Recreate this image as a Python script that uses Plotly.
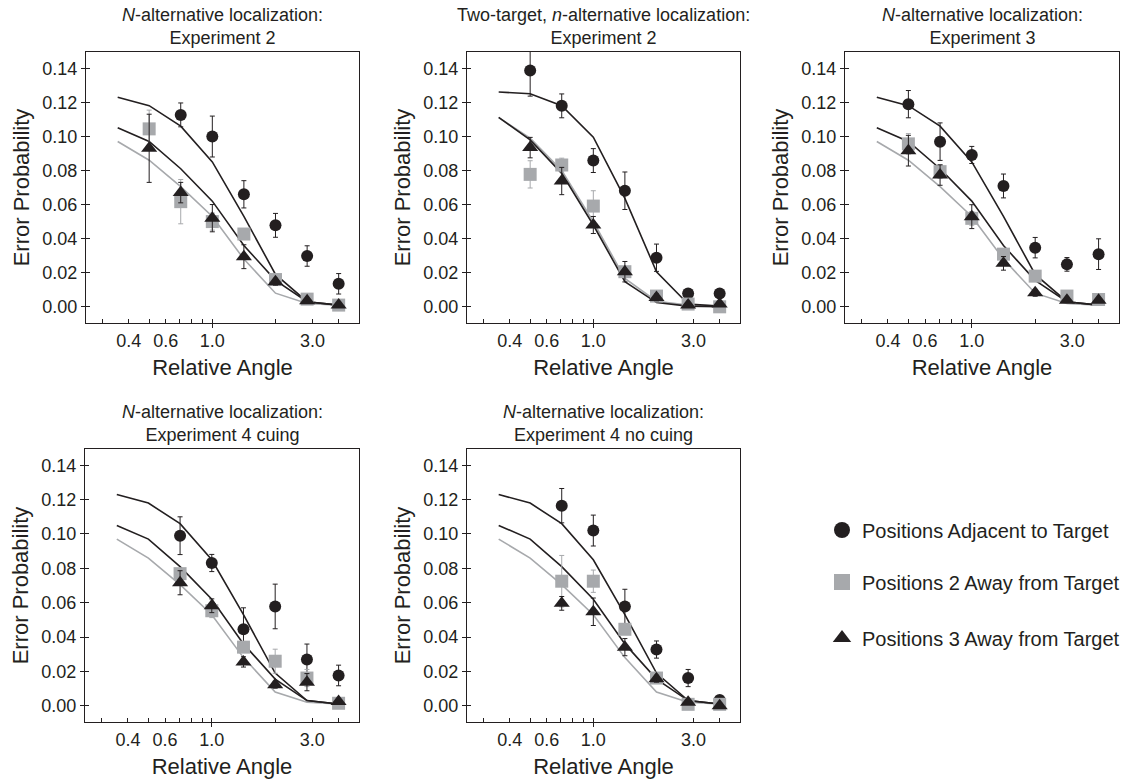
import plotly.graph_objects as go

# ---------------- data ----------------
model_angles = [0.354, 0.5, 0.707, 1.0, 1.414, 2.0, 2.83, 4.0]
angles_a = [0.5, 0.707, 1.0, 1.414, 2.0, 2.83, 4.0]
angles_b = [0.707, 1.0, 1.414, 2.0, 2.83, 4.0]

# model curves (single-target experiments share one model)
model_adj = [0.123, 0.118, 0.106, 0.085, 0.053, 0.019, 0.003, 0.001]
model_two = [0.097, 0.086, 0.0705, 0.053, 0.028, 0.008, 0.002, 0.001]
model_three = [0.105, 0.097, 0.081, 0.062, 0.036, 0.0155, 0.003, 0.001]
# two-target model
model2_adj = [0.126, 0.125, 0.118, 0.0995, 0.0636, 0.0206, 0.0016, 0.0004]
model2_two = [0.111, 0.099, 0.080, 0.050, 0.0166, 0.0033, 0.001, 0.0004]
model2_three = [0.1112, 0.0979, 0.0783, 0.048, 0.0147, 0.0025, 0.0004, 0.0]

# Panel 1: N-alternative, Experiment 2
p1_adj = [None, 0.1126, 0.0999, 0.066, 0.0478, 0.0298, 0.0135]
p1_adj_err = [0, 0.007, 0.012, 0.008, 0.007, 0.006, 0.006]
p1_two = [0.1044, 0.0617, 0.050, 0.0427, 0.016, 0.0045, 0.001]
p1_two_err = [0.011, 0.013, 0.005, 0.003, 0.002, 0.001, 0.001]
p1_three = [0.093, 0.067, 0.052, 0.0294, 0.0147, 0.0035, 0.001]
p1_three_err = [0.020, 0.006, 0.008, 0.007, 0.002, 0.001, 0.001]

# Panel 2: Two-target, Experiment 2
p2_adj = [0.1386, 0.1179, 0.0858, 0.0681, 0.0288, 0.0078, 0.0078]
p2_adj_err = [0.015, 0.007, 0.007, 0.011, 0.008, 0.002, 0.002]
p2_two = [0.0777, 0.0832, 0.0591, 0.0206, 0.0063, 0.0016, 0.0]
p2_two_err = [0.008, 0.004, 0.009, 0.003, 0.002, 0.001, 0.001]
p2_three = [0.0934, 0.0738, 0.048, 0.0206, 0.0055, 0.001, 0.0016]
p2_three_err = [0.006, 0.008, 0.005, 0.006, 0.002, 0.001, 0.001]

# Panel 3: N-alternative, Experiment 3
p3_adj = [0.1189, 0.0969, 0.0891, 0.0709, 0.0347, 0.0249, 0.0309]
p3_adj_err = [0.008, 0.011, 0.005, 0.007, 0.006, 0.004, 0.009]
p3_two = [0.0956, 0.0793, 0.0519, 0.0309, 0.018, 0.0063, 0.0043]
p3_two_err = [0.006, 0.004, 0.004, 0.003, 0.002, 0.001, 0.001]
p3_three = [0.0916, 0.0773, 0.0529, 0.0255, 0.0082, 0.0039, 0.0039]
p3_three_err = [0.009, 0.006, 0.007, 0.004, 0.002, 0.001, 0.001]

# Panel 4: Experiment 4 cuing
p4_adj = [0.099, 0.0831, 0.0445, 0.0578, 0.0269, 0.0176]
p4_adj_err = [0.011, 0.005, 0.0125, 0.013, 0.009, 0.006]
p4_two = [0.0769, 0.0553, 0.0341, 0.0259, 0.0161, 0.0014]
p4_two_err = [0.003, 0.004, 0.003, 0.007, 0.005, 0.001]
p4_three = [0.0716, 0.0582, 0.0255, 0.0122, 0.0137, 0.0024]
p4_three_err = [0.007, 0.004, 0.003, 0.002, 0.005, 0.001]

# Panel 5: Experiment 4 no cuing
p5_adj = [0.1165, 0.102, 0.0578, 0.0327, 0.0161, 0.0033]
p5_adj_err = [0.01, 0.009, 0.01, 0.005, 0.005, 0.001]
p5_two = [0.0725, 0.0725, 0.0445, 0.0161, 0.0008, 0.0008]
p5_two_err = [0.015, 0.0065, 0.003, 0.002, 0.001, 0.001]
p5_three = [0.0596, 0.0547, 0.0341, 0.0157, 0.002, 0.0]
p5_three_err = [0.004, 0.008, 0.005, 0.002, 0.001, 0.001]

titles = [
    "<i>N</i>-alternative localization:<br>Experiment 2",
    "Two-target, <i>n</i>-alternative localization:<br>Experiment 2",
    "<i>N</i>-alternative localization:<br>Experiment 3",
    "<i>N</i>-alternative localization:<br>Experiment 4 cuing",
    "<i>N</i>-alternative localization:<br>Experiment 4 no cuing",
]
series_names = ["Positions Adjacent to Target",
                "Positions 2 Away from Target",
                "Positions 3 Away from Target"]
x_minor_ticks = [0.3, 0.4, 0.5, 0.6, 0.7, 0.8, 0.9, 1.0, 2.0, 3.0, 4.0]
x_tick_text = ["", "0.4", "", "0.6", "", "", "", "1.0", "", "3.0", ""]
y_ticks = [0.0, 0.02, 0.04, 0.06, 0.08, 0.10, 0.12, 0.14]
y_tick_text = ["0.00", "0.02", "0.04", "0.06", "0.08", "0.10", "0.12", "0.14"]

panels = [
    dict(angles=angles_a, models=(model_adj, model_two, model_three),
         adj=(p1_adj, p1_adj_err), two=(p1_two, p1_two_err), three=(p1_three, p1_three_err)),
    dict(angles=angles_a, models=(model2_adj, model2_two, model2_three),
         adj=(p2_adj, p2_adj_err), two=(p2_two, p2_two_err), three=(p2_three, p2_three_err)),
    dict(angles=angles_a, models=(model_adj, model_two, model_three),
         adj=(p3_adj, p3_adj_err), two=(p3_two, p3_two_err), three=(p3_three, p3_three_err)),
    dict(angles=angles_b, models=(model_adj, model_two, model_three),
         adj=(p4_adj, p4_adj_err), two=(p4_two, p4_two_err), three=(p4_three, p4_three_err)),
    dict(angles=angles_b, models=(model_adj, model_two, model_three),
         adj=(p5_adj, p5_adj_err), two=(p5_two, p5_two_err), three=(p5_three, p5_three_err)),
]

# ---------------- layout geometry ----------------
W, H = 1137, 782
px_x = [(86, 359), (467, 740), (845, 1119), (85, 359), (467, 740)]
px_y = [(52, 323), (52, 323), (52, 323), (449, 722), (449, 722)]

BLACK = "#231f20"
GRAY = "#a7a9ac"
FONT = "Liberation Sans, Arial, Helvetica, sans-serif"

fig = go.Figure()
layout = dict(
    width=W, height=H, margin=dict(l=0, r=0, t=0, b=0),
    paper_bgcolor="white", plot_bgcolor="white",
    font=dict(family=FONT, color=BLACK),
    showlegend=True, annotations=[],
)

XR = [-0.602, 0.699]   # log10(0.25) .. log10(5)
YR = [-0.0095, 0.1495]

for i, p in enumerate(panels):
    n = i + 1
    sfx = "" if n == 1 else str(n)
    xa, ya = "x" + sfx, "y" + sfx
    m_adj, m_two, m_three = p["models"]
    # model curves
    for m, col in ((m_two, GRAY), (m_three, BLACK), (m_adj, BLACK)):
        fig.add_trace(go.Scatter(x=model_angles, y=m, mode="lines",
                                 line=dict(color=col, width=1.6),
                                 xaxis=xa, yaxis=ya, showlegend=False, hoverinfo="skip"))
    # data
    specs = [
        ("adj", "circle", 12, BLACK, BLACK, 0),
        ("two", "square", 13, GRAY, GRAY, 1),
        ("three", "triangle-up", 14, BLACK, BLACK, 2),
    ]
    for key, sym, size, col, ecol, k in specs:
        vals, errs = p[key]
        fig.add_trace(go.Scatter(
            x=p["angles"], y=vals, mode="markers",
            marker=dict(symbol=sym, size=size, color=col, line=dict(width=0)),
            error_y=dict(type="data", array=errs, visible=True, color=ecol,
                         thickness=1, width=2.5),
            xaxis=xa, yaxis=ya, name=series_names[k], showlegend=False))

    dx = [px_x[i][0] / W, px_x[i][1] / W]
    dy = [1 - px_y[i][1] / H, 1 - px_y[i][0] / H]
    layout["xaxis" + sfx] = dict(
        domain=dx, type="log", range=XR, anchor=ya,
        tickmode="array", tickvals=x_minor_ticks, ticktext=x_tick_text,
        ticks="inside", ticklen=4, tickwidth=1, tickcolor=BLACK,
        showline=True, linecolor=BLACK, linewidth=1.2, mirror=True,
        showgrid=False, zeroline=False, ticklabelstandoff=1,
        tickfont=dict(size=18, family=FONT, color=BLACK),
        title=dict(text="Relative Angle", font=dict(size=22, family=FONT, color=BLACK), standoff=9),
    )
    layout["yaxis" + sfx] = dict(
        domain=dy, range=YR, anchor=xa,
        tickmode="array", tickvals=y_ticks, ticktext=y_tick_text,
        ticks="outside", ticklen=4, tickwidth=1, tickcolor=BLACK,
        showline=True, linecolor=BLACK, linewidth=1.2, mirror=True,
        showgrid=False, zeroline=False,
        tickfont=dict(size=18, family=FONT, color=BLACK),
        title=dict(text="Error Probability", font=dict(size=22, family=FONT, color=BLACK), standoff=6),
    )
    # overlay axes to produce crossing tick marks
    o = str(n + 5)
    layout["xaxis" + o] = dict(
        overlaying=xa, type="log", range=XR, anchor="y" + o,
        tickmode="array", tickvals=[1.0], ticktext=[""],
        ticks="outside", ticklen=4, tickwidth=1, tickcolor=BLACK,
        showline=False, showgrid=False, zeroline=False, showticklabels=False,
    )
    layout["yaxis" + o] = dict(
        overlaying=ya, range=YR, anchor="x" + o,
        tickmode="array", tickvals=y_ticks,
        ticks="inside", ticklen=4, tickwidth=1, tickcolor=BLACK,
        showline=False, showgrid=False, zeroline=False, showticklabels=False,
    )
    fig.add_trace(go.Scatter(x=[None], y=[None], xaxis="x" + o, yaxis="y" + o,
                             showlegend=False, hoverinfo="skip"))
    layout["annotations"].append(dict(
        text=titles[i], xref="paper", yref="paper",
        x=(dx[0] + dx[1]) / 2, y=dy[1], xanchor="center", yanchor="bottom",
        yshift=2, showarrow=False, align="center",
        font=dict(size=18, family=FONT, color=BLACK)))

# legend entries (separate legends for generous spacing)
leg_specs = [("circle", BLACK, "legend", 530),
             ("square", GRAY, "legend2", 582),
             ("triangle-up", BLACK, "legend3", 638)]
for k, (sym, col, lg, ypx) in enumerate(leg_specs):
    fig.add_trace(go.Scatter(x=[None], y=[None], mode="markers", xaxis="x", yaxis="y",
                             marker=dict(symbol=sym, size=20, color=col),
                             name=series_names[k], legend=lg, showlegend=True))
    layout[lg] = dict(x=822 / W, y=1 - ypx / H, xanchor="left", yanchor="middle",
                      bgcolor="rgba(0,0,0,0)", itemsizing="trace",
                      font=dict(size=20, family=FONT, color=BLACK))

fig.update_layout(**layout)
fig.write_html("out.html",
               config={"displayModeBar": False},
               post_script="document.body.style.margin='0';document.body.style.overflow='hidden';")
